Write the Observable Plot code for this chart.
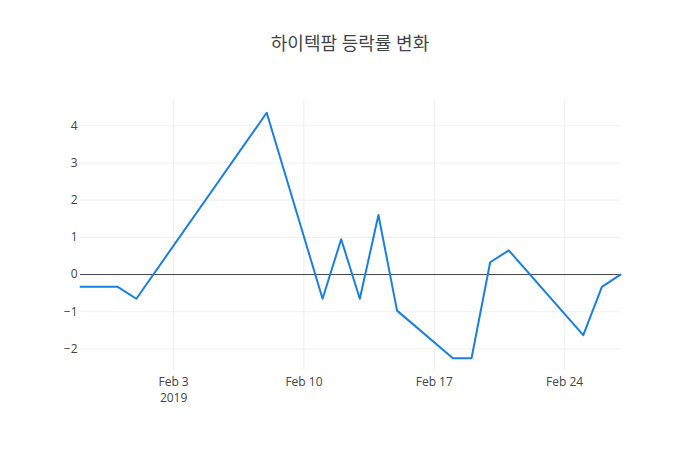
<!DOCTYPE html>
<html>
<head>
<meta charset="utf-8">
<script src="https://cdn.jsdelivr.net/npm/d3@7"></script>
<script src="https://cdn.jsdelivr.net/npm/@observablehq/plot@0.6"></script>
<style>
  html, body { margin: 0; padding: 0; background: #fff; }
  #wrap { position: relative; width: 700px; height: 450px; font-family: "Open Sans", "Noto Sans CJK KR", sans-serif; }
  #title { position: absolute; left: 0; width: 700px; top: 31px; text-align: center; font-size: 18px; color: #444; line-height: 25px; }
</style>
</head>
<body>
<div id="wrap"><div id="title">하이텍팜 등락률 변화</div></div>
<script>
const dates = ["2019-01-29","2019-01-30","2019-01-31","2019-02-01","2019-02-08","2019-02-11","2019-02-12","2019-02-13","2019-02-14","2019-02-15","2019-02-18","2019-02-19","2019-02-20","2019-02-21","2019-02-25","2019-02-26","2019-02-27"];
const changes = [-0.33,-0.33,-0.33,-0.65,4.35,-0.65,0.95,-0.65,1.6,-0.97,-2.25,-2.25,0.33,0.65,-1.63,-0.33,0];
const yTicks = [-2,-1,0,1,2,3,4];
const xTicks = ["2019-02-03","2019-02-10","2019-02-17","2019-02-24"];

const data = dates.map((d, i) => ({date: new Date(d + "T00:00:00Z"), value: changes[i]}));
const xTickDates = xTicks.map(d => new Date(d + "T00:00:00Z"));
const monthFmt = d3.utcFormat("%b %-d");

const chart = Plot.plot({
  width: 700,
  height: 450,
  marginTop: 100,
  marginRight: 80,
  marginBottom: 80,
  marginLeft: 80,
  style: {fontFamily: "'Open Sans', 'Noto Sans CJK KR', sans-serif", fontSize: "12px", color: "#444", background: "#fff"},
  x: {type: "utc", domain: [data[0].date, data[data.length - 1].date]},
  y: {domain: [-2.58, 4.68]},
  marks: [
    Plot.gridX(xTickDates, {stroke: "#eee", strokeOpacity: 1}),
    Plot.gridY(yTicks, {stroke: "#eee", strokeOpacity: 1}),
    Plot.ruleY([0], {stroke: "#444", strokeWidth: 1}),
    Plot.axisY(yTicks, {tickSize: 0, tickPadding: 3, fontSize: 12, fill: "#444",
      tickFormat: d => d < 0 ? "\u2212" + Math.abs(d) : String(d), label: null}),
    Plot.axisX(xTickDates, {tickSize: 0, tickPadding: 4, fontSize: 12, fill: "#444", lineHeight: 1.35,
      tickFormat: (d, i) => i === 0 ? monthFmt(d) + "\n2019" : monthFmt(d), label: null}),
    Plot.line(data, {x: "date", y: "value", stroke: "#1a7fe3", strokeWidth: 2})
  ]
});
document.getElementById("wrap").appendChild(chart);
</script>
</body>
</html>
